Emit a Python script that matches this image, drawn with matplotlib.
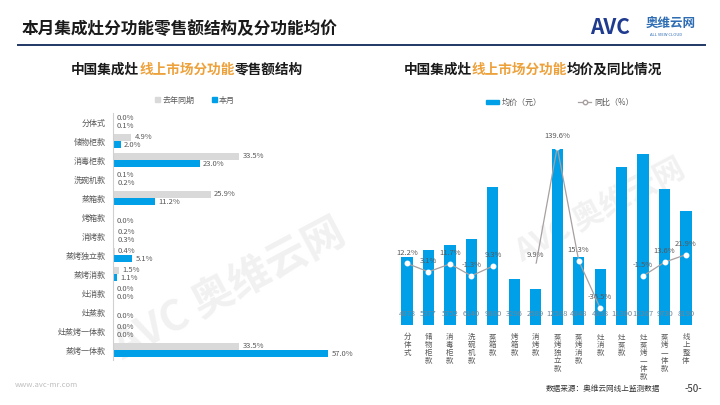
import numpy as np
import matplotlib
matplotlib.use("Agg")
import matplotlib.pyplot as plt
from matplotlib.lines import Line2D
from matplotlib.patches import Patch
from matplotlib.offsetbox import TextArea, HPacker, AnnotationBbox

plt.rcParams['font.family'] = ['Noto Sans CJK SC', 'DejaVu Sans']

# ---------------- data ----------------
left_cats = ["分体式", "储物柜款", "消毒柜款", "洗碗机款", "蒸箱款", "烤箱款", "消烤款",
             "蒸烤独立款", "蒸烤消款", "灶消款", "灶蒸款", "灶蒸烤一体款", "蒸烤一体款"]
share_last_year = [0.0, 4.9, 33.5, 0.1, 25.9, np.nan, 0.2, 0.4, 1.5, 0.0, np.nan, 0.0, 33.5]
share_this_month = [0.1, 2.0, 23.0, 0.2, 11.2, 0.0, 0.3, 5.1, 1.1, 0.0, 0.0, 0.0, 57.0]

right_cats = ["分体式", "储物柜款", "消毒柜款", "洗碗机款", "蒸箱款", "烤箱款", "消烤款",
              "蒸烤独立款", "蒸烤消款", "灶消款", "灶蒸款", "灶蒸烤一体款", "蒸烤一体款", "线上整体"]
avg_price = [4873, 5377, 5752, 6140, 9880, 3296, 2589, 12588, 4848, 4038, 11300, 12267, 9730, 8190]
yoy = [12.2, 3.1, 11.7, -1.3, 9.3, np.nan, 9.9, 139.6, 15.3, -36.5, np.nan, -1.5, 13.6, 21.9]

BLUE = '#00A0E9'
GRAY = '#D9D9D9'
ORANGE = '#EDA13B'
LINEC = '#A8A0A0'
TXT = '#595959'

fig = plt.figure(figsize=(7.2, 4.05), dpi=100)
W, H = 720.0, 405.0

def fx(px):
    return px / W

def fy(py):
    return 1 - py / H

# watermarks (drawn first, lowest zorder)
for (x, y, s) in [(230, 290, 30), (600, 210, 22)]:
    fig.text(fx(x), fy(y), "AVC 奥维云网", fontsize=s, weight='bold', color='#F1F1F1',
             rotation=28, ha='center', va='center', zorder=-5)

# ---------------- header ----------------
fig.text(fx(22), fy(29), "本月集成灶分功能零售额结构及分功能均价", fontsize=12, weight='bold',
         color='#1a1a1a', va='center', ha='left')
fig.add_artist(Line2D([fx(18), fx(705)], [fy(45), fy(45)], color='#1F3864', lw=1.4))
fig.text(fx(590), fy(27), "AVC", fontsize=15, weight='bold', style='italic', color='#1F3B8F',
         va='center', ha='left')
fig.text(fx(646), fy(23), "奥维云网", fontsize=9, weight='bold', color='#2E6DB4', va='center', ha='left')
fig.text(fx(650), fy(35), "ALL VIEW CLOUD", fontsize=3, color='#2E6DB4', va='center', ha='left')

# multi-colored subtitles
def colored_title(cx, cy, parts, size=9.8):
    boxes = [TextArea(s, textprops=dict(fontsize=size, weight='bold', color=c)) for s, c in parts]
    pack = HPacker(children=boxes, pad=0, sep=0, align='center')
    ab = AnnotationBbox(pack, (fx(cx), fy(cy)), xycoords='figure fraction',
                        box_alignment=(0.5, 0.5), frameon=False, pad=0, zorder=5)
    fig.add_artist(ab)

colored_title(187, 70, [("中国集成灶", '#1a1a1a'), ("线上市场分功能", ORANGE), ("零售额结构", '#1a1a1a')])
colored_title(533, 70, [("中国集成灶", '#1a1a1a'), ("线上市场分功能", ORANGE), ("均价及同比情况", '#1a1a1a')])

# ---------------- left chart ----------------
axL = fig.add_axes([fx(113), fy(359.5), fx(345) - fx(113), 247 / H])
y = np.arange(len(left_cats))
off = 0.19
hgt = 0.33
ly = np.array(share_last_year, dtype=float)
tm = np.array(share_this_month, dtype=float)
axL.barh(y - off, np.nan_to_num(ly), height=hgt, color=GRAY, label="去年同期")
axL.barh(y + off, tm, height=hgt, color=BLUE, label="本月")
for i in range(len(left_cats)):
    if not np.isnan(ly[i]):
        axL.text(ly[i] + 0.9, y[i] - off, f"{ly[i]:.1f}%", fontsize=5.5, color=TXT, va='center', ha='left')
    axL.text(tm[i] + 0.9, y[i] + off, f"{tm[i]:.1f}%", fontsize=5.5, color=TXT, va='center', ha='left')
axL.set_ylim(len(left_cats) - 0.5, -0.5)
axL.set_xlim(0, 61.5)
axL.set_yticks(y)
axL.set_yticklabels(left_cats, fontsize=5.8, color=TXT)
axL.tick_params(axis='y', length=0, pad=5)
axL.set_xticks([])
for s in ['top', 'right', 'bottom']:
    axL.spines[s].set_visible(False)
axL.spines['left'].set_color('#D0D0D0')
axL.spines['left'].set_linewidth(0.8)
axL.patch.set_alpha(0)
fig.legend(handles=[Patch(color=GRAY, label="去年同期"), Patch(color=BLUE, label="本月")],
           loc='center', bbox_to_anchor=(fx(195), fy(100)), ncol=2, frameon=False,
           fontsize=5.8, labelcolor=TXT, handlelength=0.6, handleheight=0.6,
           handletextpad=0.3, columnspacing=2.2)

# ---------------- right chart ----------------
axR = fig.add_axes([fx(396.3), fy(325), 300.4 / W, 185 / H])
x = np.arange(len(right_cats))
axR.bar(x, avg_price, width=0.52, color=BLUE, zorder=2)
for i, v in enumerate(avg_price):
    axR.text(x[i], 520, f"{v}", fontsize=5.5, color='#6E8494', ha='center', va='bottom', zorder=3)
axR.set_xlim(-0.5, len(right_cats) - 0.5)
axR.set_ylim(0, 13260)
axR.set_xticks(x)
axR.set_xticklabels(["\n".join(c) for c in right_cats], fontsize=5.4, color=TXT,
                    va='top', linespacing=0.98)
axR.tick_params(axis='x', length=0, pad=6)
axR.set_yticks([])
for s in ['top', 'right', 'left', 'bottom']:
    axR.spines[s].set_visible(False)
axR.patch.set_alpha(0)

axR2 = axR.twinx()
yy = np.array(yoy, dtype=float)
axR2.plot(x, yy, color=LINEC, lw=0.9, marker='o', markersize=3.2,
          markerfacecolor='white', markeredgecolor='white', zorder=4)
for i, v in enumerate(yy):
    if not np.isnan(v):
        axR2.annotate(f"{v:.1f}%", (x[i], v), xytext=(0, 5), textcoords='offset points',
                      fontsize=5.5, color=TXT, ha='center', va='bottom')
axR2.set_ylim(-55.1, 147.3)
axR2.set_yticks([])
for s in ['top', 'right', 'left', 'bottom']:
    axR2.spines[s].set_visible(False)

fig.legend(handles=[Patch(color=BLUE, label="均价（元）"),
                    Line2D([0], [0], color=LINEC, lw=0.9, marker='o', markersize=3.2,
                           markerfacecolor='white', markeredgecolor=LINEC, label="同比（%）")],
           loc='center', bbox_to_anchor=(fx(560), fy(102)), ncol=2, frameon=False,
           fontsize=5.8, labelcolor=TXT, handlelength=1.6, handleheight=0.4,
           handletextpad=0.4, columnspacing=4.5)

# ---------------- footer ----------------
fig.text(fx(15), fy(385), "www.avc-mr.com", fontsize=5.5, color='#BFBFBF', va='center', ha='left')
fig.text(fx(660), fy(389), "数据来源：奥维云网线上监测数据", fontsize=5.5, color='#333333', va='center', ha='right')
fig.text(fx(702), fy(389), "-50-", fontsize=7, color='#333333', va='center', ha='right')

fig.savefig("out.png", dpi=100)
